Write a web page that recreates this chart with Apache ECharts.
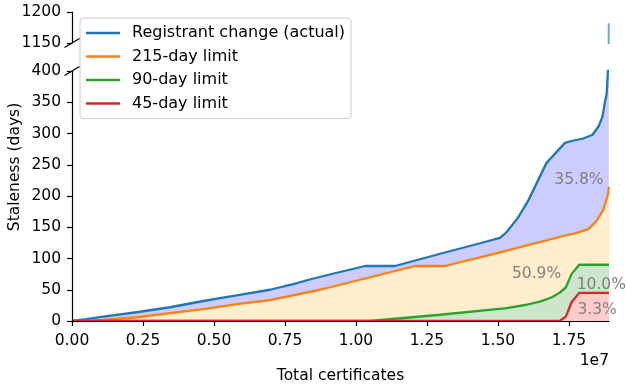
<!DOCTYPE html>
<html><head><meta charset="utf-8">
<script src="https://cdn.jsdelivr.net/npm/echarts@6/dist/echarts.min.js"></script>
<style>html,body{margin:0;padding:0;background:#fff}#c{width:626px;height:389px}</style>
</head><body><div id="c"></div>
<script>
// ---- data (x = total certificates, y = staleness in days) ----
const registrantX = [0, 0.05e7, 0.11e7, 0.228e7, 0.345e7, 0.462e7, 0.58e7, 0.697e7, 0.779e7, 0.85e7, 0.94e7, 1.032e7, 1.137e7, 1.30e7, 1.45e7, 1.507e7, 1.53e7, 1.57e7, 1.607e7, 1.671e7, 1.736e7, 1.759e7, 1.80e7, 1.833e7, 1.855e7, 1.868e7, 1.877e7, 1.883e7, 1.887e7, 1.89e7];
const registrantY = [0, 3, 7, 14, 22, 32, 41, 50, 59, 68, 78, 88, 88, 108, 126, 133, 142, 165, 193, 253, 285, 288, 292, 298, 312, 327, 351, 364, 399, 1182];
const limit215X = [0, 0.05e7, 0.11e7, 0.228e7, 0.345e7, 0.462e7, 0.58e7, 0.697e7, 0.873e7, 1.05e7, 1.208e7, 1.313e7, 1.50e7, 1.73e7, 1.777e7, 1.818e7, 1.847e7, 1.871e7, 1.886e7, 1.891e7];
const limit215Y = [0, 0.3, 1.6, 6, 12.7, 19, 27, 33.5, 50, 70, 88, 88, 109, 136, 141, 147, 160, 178, 200, 215];
const limit90X = [0, 1.049e7, 1.296e7, 1.531e7, 1.60e7, 1.648e7, 1.69e7, 1.718e7, 1.739e7, 1.759e7, 1.786e7, 1.891e7];
const limit90Y = [0, 0, 10, 20.7, 26, 31, 38, 45.6, 53.6, 75, 90, 90];
const limit45X = [0, 1.718e7, 1.739e7, 1.759e7, 1.786e7, 1.891e7];
const limit45Y = [0, 0.5, 7, 30, 45, 45];
const seriesNames = ['Registrant change (actual)', '215-day limit', '90-day limit', '45-day limit'];
const xTicks = [0, 0.25e7, 0.5e7, 0.75e7, 1.0e7, 1.25e7, 1.5e7, 1.75e7];
const shareLabels = ['35.8%', '50.9%', '10.0%', '3.3%'];
const shareAnchorX = [1.785e7, 1.636e7, 1.864e7, 1.849e7];
const shareAnchorY = [226, 75, 58, 17.5];
const xMax = 1.891e7;

const lineColors = ['#1f77b4', '#ff7f0e', '#2ca02c', '#d62728'];
const fillColors = ['#ccccff', '#ffedcc', '#cce6cc', '#ffcccc'];
const FONT = 'DejaVu Sans';
const FS = 15.5;

function zip(xs, ys) { return xs.map((x, i) => [x, ys[i]]); }
const allX = [registrantX, limit215X, limit90X, limit45X];
const allY = [registrantY, limit215Y, limit90Y, limit45Y];

const series = [];
for (let i = 0; i < 4; i++) {
  series.push({
    type: 'line', name: 'fill' + i, xAxisIndex: 1, yAxisIndex: 1,
    data: zip(allX[i], allY[i]), symbol: 'none', silent: true,
    lineStyle: { width: 0 }, areaStyle: { color: fillColors[i], opacity: 1 }, z: 1
  });
}
for (let i = 0; i < 4; i++) {
  series.push({
    type: 'line', name: seriesNames[i], xAxisIndex: 1, yAxisIndex: 1,
    data: zip(allX[i], allY[i]), symbol: 'none', silent: true,
    itemStyle: { color: lineColors[i] },
    lineStyle: { width: 2.3, color: lineColors[i] }, z: 2
  });
}
series.push({
  type: 'line', name: seriesNames[0], xAxisIndex: 0, yAxisIndex: 0,
  data: zip(registrantX, registrantY), symbol: 'none', silent: true,
  itemStyle: { color: lineColors[0] },
  lineStyle: { width: 2, color: lineColors[0], opacity: 0.65 }, z: 2
});

const axisLine = { show: true, lineStyle: { color: '#000', width: 1.2 } };
const axisTick = { show: true, length: 5, lineStyle: { color: '#000', width: 1.2 } };
const labelStyle = { color: '#000', fontSize: FS, fontFamily: FONT };

const chart = echarts.init(document.getElementById('c'), null, { renderer: 'canvas' });
chart.setOption({
  animation: false,
  backgroundColor: '#fff',
  grid: [
    { left: 72, top: 12, width: 537, height: 31 },
    { left: 72, top: 71, width: 537, height: 251 }
  ],
  xAxis: [
    { gridIndex: 0, type: 'value', min: 0, max: xMax, show: false },
    { gridIndex: 1, type: 'value', min: 0, max: xMax, z: 5,
      axisLine: axisLine,
      axisTick: Object.assign({ customValues: xTicks }, axisTick),
      axisLabel: Object.assign({ customValues: xTicks, margin: 12,
        formatter: v => (v / 1e7).toFixed(2) }, labelStyle),
      splitLine: { show: false },
      name: 'Total certificates', nameLocation: 'middle', nameGap: 47,
      nameTextStyle: labelStyle }
  ],
  yAxis: [
    { gridIndex: 0, type: 'value', min: 1150, max: 1200, interval: 50,
      axisLine: axisLine, axisTick: axisTick,
      axisLabel: Object.assign({ margin: 11, formatter: v => String(v) }, labelStyle), splitLine: { show: false } },
    { gridIndex: 1, type: 'value', min: 0, max: 400, interval: 50, z: 5,
      axisLine: axisLine, axisTick: axisTick,
      axisLabel: Object.assign({ margin: 11, formatter: v => String(v) }, labelStyle), splitLine: { show: false } }
  ],
  legend: {
    data: seriesNames, orient: 'vertical', left: 80, top: 18,
    itemWidth: 34, itemHeight: 16, itemGap: 7.5,
    padding: [7, 6, 7, 6],
    backgroundColor: 'rgba(255,255,255,0.8)', borderColor: '#cccccc', borderWidth: 1, borderRadius: 3,
    icon: 'path://M0,0H34V2.3H0Z', itemStyle: { borderWidth: 0 },
    textStyle: { fontSize: 16, color: '#000', fontFamily: FONT, padding: [0, 0, 0, 7] },
    selectedMode: false
  },
  series: series
});

const g = [];
for (let i = 0; i < shareLabels.length; i++) {
  const p = chart.convertToPixel({ xAxisIndex: 1, yAxisIndex: 1 }, [shareAnchorX[i], shareAnchorY[i]]);
  g.push({ type: 'text', x: p[0], y: p[1], z: 10, silent: true,
    style: { text: shareLabels[i], fill: '#808080', font: FS + 'px "' + FONT + '"', align: 'center', verticalAlign: 'middle' } });
}
const pTop = chart.convertToPixel({ xAxisIndex: 0, yAxisIndex: 0 }, [0, 1150]);
const pBot = chart.convertToPixel({ xAxisIndex: 1, yAxisIndex: 1 }, [0, 400]);
[pTop, pBot].forEach(p => {
  g.push({ type: 'line', z: 10, silent: true,
    shape: { x1: p[0] - 7.5, y1: p[1] + 4.5, x2: p[0] + 7.5, y2: p[1] - 4.5 },
    style: { stroke: '#000', lineWidth: 1.2 } });
});
const pEnd = chart.convertToPixel({ xAxisIndex: 1, yAxisIndex: 1 }, [xMax, 0]);
g.push({ type: 'text', x: pEnd[0], y: pEnd[1] + 40, silent: true,
  style: { text: '1e7', fill: '#000', font: FS + 'px "' + FONT + '"', align: 'right', verticalAlign: 'middle' } });
g.push({ type: 'text', x: 15, y: 167, rotation: Math.PI / 2, silent: true,
  style: { text: 'Staleness (days)', fill: '#000', font: FS + 'px "' + FONT + '"', align: 'center', verticalAlign: 'middle' } });
chart.setOption({ graphic: g });
</script>
</body></html>
